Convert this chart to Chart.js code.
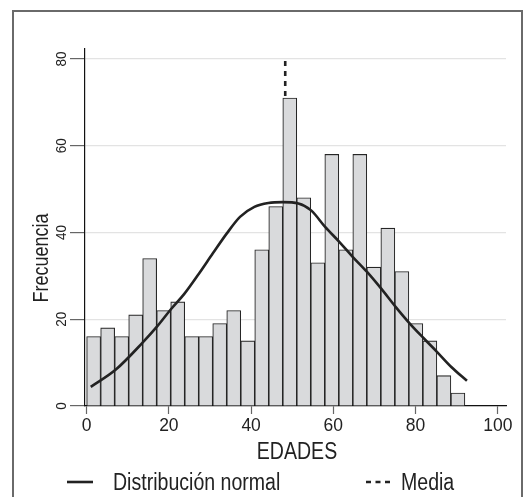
<!DOCTYPE html>
<html>
<head>
<meta charset="utf-8">
<script src="https://cdn.jsdelivr.net/npm/chart.js@4"></script>
<style>
  html, body { margin: 0; padding: 0; background: #fff; overflow: hidden; }
  #wrap { position: relative; width: 531px; height: 497px; }
  #frame { position: absolute; left: 12px; top: 10px; width: 507px; height: 520px;
           border: 2px solid #6a6a6a; border-bottom: none; }
  canvas { position: absolute; left: 0; top: 0; }
</style>
</head>
<body>
<div id="wrap">
  <div id="frame"></div>
  <canvas id="c" width="531" height="497"></canvas>
</div>
<script>
// histogram bins (centre of each age bin) and counts
const binCenters = [1.70, 5.11, 8.52, 11.93, 15.33, 18.74, 22.15, 25.56, 28.96, 32.37,
  35.78, 39.19, 42.59, 46.00, 49.41, 52.81, 56.22, 59.63, 63.04, 66.44,
  69.85, 73.26, 76.67, 80.07, 83.48, 86.89, 90.30];
const freq = [16, 18, 16, 21, 34, 22, 24, 16, 16, 19,
  22, 15, 36, 46, 71, 48, 33, 58, 36, 58,
  32, 41, 31, 19, 15, 7, 3];

// normal curve
const curveX = [1.0, 7.1, 13.6, 17.2, 20.5, 23.8, 27.3, 30.7, 34.1, 37.3, 40.8, 44.2, 47.7,
  51.5, 54.6, 58.0, 61.5, 64.7, 68.2, 71.6, 75.2, 78.6, 82.1, 85.2, 88.7, 92.5];
const curveY = [4.4, 8.4, 14.6, 18.4, 22.3, 25.9, 30.5, 35.2, 39.8, 43.6, 45.9, 46.8, 47.0,
  46.7, 45.1, 41.3, 37.8, 34.4, 30.9, 27.1, 22.8, 19.0, 15.5, 12.5, 9.0, 5.8];

const meanAge = 48.3;
const meanLine = [0, 80];

const legendLabels = ["Distribución normal", "Media"];
const xTitle = "EDADES";
const yTitle = "Frecuencia";

const SANS = '"Liberation Sans", Arial, sans-serif';

// condensed text: regular face squeezed horizontally
function narrowText(ctx, txt, x, y, sx, align) {
  ctx.save();
  ctx.translate(x, y);
  ctx.scale(sx, 1);
  ctx.textAlign = align;
  ctx.fillText(txt, 0, 0);
  ctx.restore();
}

const textPlugin = {
  id: "texts",
  afterDraw(chart) {
    const ctx = chart.ctx;
    const y = chart.scales.y;
    const x = chart.scales.x;
    ctx.save();
    ctx.fillStyle = "#222";

    // rotated y tick labels
    ctx.font = "15px " + SANS;
    ctx.textBaseline = "middle";
    y.ticks.forEach(t => {
      const py = y.getPixelForValue(t.value);
      ctx.save();
      ctx.translate(62, py);
      ctx.rotate(-Math.PI / 2);
      narrowText(ctx, String(t.value), 0, 0, 0.9, "center");
      ctx.restore();
    });

    // x tick labels
    ctx.font = "19px " + SANS;
    ctx.textBaseline = "top";
    x.ticks.forEach(t => {
      narrowText(ctx, String(t.value), x.getPixelForValue(t.value), 416, 0.92, "center");
    });

    // axis titles
    ctx.font = "22px " + SANS;
    ctx.textBaseline = "middle";
    ctx.save();
    ctx.translate(42, 258);
    ctx.rotate(-Math.PI / 2);
    narrowText(ctx, yTitle, 0, 0, 0.82, "center");
    ctx.restore();

    ctx.font = "23px " + SANS;
    ctx.textBaseline = "alphabetic";
    narrowText(ctx, xTitle, 297, 459, 0.85, "center");

    // legend
    ctx.strokeStyle = "#222";
    ctx.lineWidth = 2.6;
    ctx.beginPath();
    ctx.moveTo(67, 482); ctx.lineTo(93, 482);
    ctx.stroke();
    ctx.setLineDash([5, 4.5]);
    ctx.beginPath();
    ctx.moveTo(366, 482); ctx.lineTo(390, 482);
    ctx.stroke();
    ctx.setLineDash([]);
    narrowText(ctx, legendLabels[0], 113, 490, 0.85, "left");
    narrowText(ctx, legendLabels[1], 401, 490, 0.85, "left");

    ctx.restore();
  }
};

new Chart(document.getElementById("c"), {
  type: "bar",
  data: {
    datasets: [
      {
        type: "line",
        label: legendLabels[0],
        data: curveX.map((x, i) => ({ x, y: curveY[i] })),
        borderColor: "#222",
        borderWidth: 2.6,
        pointRadius: 0,
        cubicInterpolationMode: "monotone",
        fill: false,
        order: 0
      },
      {
        type: "bar",
        label: "Frecuencia",
        data: binCenters.map((x, i) => ({ x, y: freq[i] })),
        backgroundColor: "#d9dadc",
        borderColor: "#262626",
        borderWidth: 1.1,
        barPercentage: 1,
        categoryPercentage: 1,
        order: 1
      },
      {
        type: "line",
        label: legendLabels[1],
        data: meanLine.map(v => ({ x: meanAge, y: v })),
        borderColor: "#222",
        borderWidth: 2.6,
        borderDash: [5, 5],
        pointRadius: 0,
        fill: false,
        order: 2
      }
    ]
  },
  options: {
    responsive: false,
    animation: false,
    devicePixelRatio: 1,
    layout: { padding: { top: 49, right: 25, left: 0, bottom: 0 } },
    plugins: { legend: { display: false }, tooltip: { enabled: false } },
    scales: {
      x: {
        type: "linear",
        min: -0.4,
        max: 102,
        offset: false,
        ticks: { stepSize: 20, includeBounds: false, display: false },
        grid: { drawOnChartArea: false, offset: false, tickLength: 8, tickColor: "#666", tickWidth: 1.2 },
        border: { color: "#111", width: 1.2 },
        afterFit(s) { s.height = 91; }
      },
      y: {
        min: 0,
        max: 82.3,
        ticks: { stepSize: 20, includeBounds: false, display: false },
        grid: { color: "#e3e3e3", lineWidth: 1.2, tickLength: 15, tickColor: "#666", tickWidth: 1.2 },
        border: { color: "#111", width: 1.2 },
        afterFit(s) { s.width = 85; }
      }
    }
  },
  plugins: [textPlugin]
});
</script>
</body>
</html>
